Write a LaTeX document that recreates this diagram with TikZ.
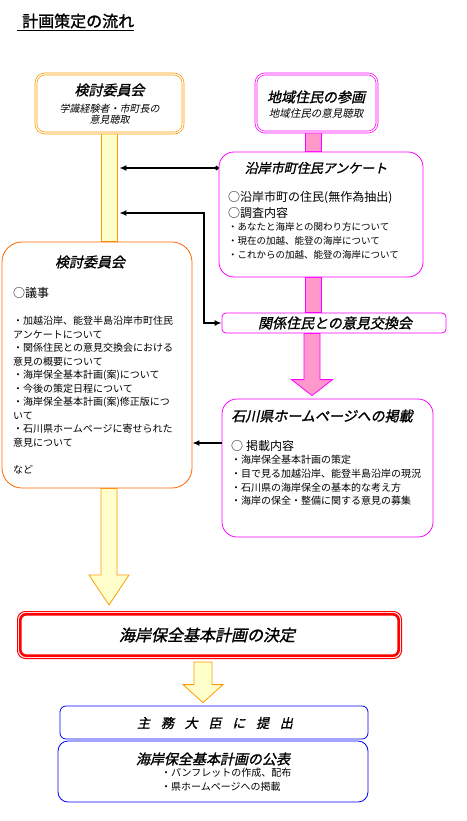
\documentclass[tikz,border=0pt]{standalone}
\usepackage{fontspec}
\setmainfont{Noto Sans CJK JP}
\newfontfamily\jpbi[FakeSlant=0.22,FakeBold=1.3]{Noto Sans CJK JP}
\newfontfamily\jpi[FakeSlant=0.22]{Noto Sans CJK JP}
\newfontfamily\jpb[FakeBold=1.3]{Noto Sans CJK JP}
\usetikzlibrary{calc,fit,arrows.meta,backgrounds}
\definecolor{orgA}{HTML}{FF9900}
\definecolor{orgB}{HTML}{FF6600}
\definecolor{mag}{HTML}{FF00FF}
\definecolor{pinkf}{HTML}{FF99CC}
\definecolor{yelf}{HTML}{FFFFCC}
\definecolor{blu}{HTML}{0000FF}
\newcommand\fs[2]{\fontsize{#1}{#2}\selectfont}
\begin{document}
\begin{tikzpicture}[x=1pt,y=-1pt,
  box/.style={draw, fill=white, inner sep=0, line width=0.8pt},
  dbox/.style={draw, fill=white, inner sep=0, double=white, double distance=1.2pt, line width=0.7pt},
  txt/.style={inner sep=0, text=black},
  conn/.style={line width=2pt, -{Latex[length=7pt,width=6pt]}},
  yarr/.style={draw=orgA, fill=yelf, line width=0.8pt, line join=miter},
  parr/.style={draw=mag, fill=pinkf, line width=0.8pt, line join=miter}]
\useasboundingbox (0,0) rectangle (466,821);

% boxes
\node[dbox, draw=orgA, rounded corners=9, minimum width=147, minimum height=59] (b1) at (109.5,103.5) {};
\node[dbox, draw=mag, rounded corners=9, minimum width=121, minimum height=58] (b2) at (316.5,103) {};
\node[box, draw=orgB, rounded corners=20, minimum width=190, minimum height=246] (b3) at (97,365) {};
\node[box, draw=mag, rounded corners=15, minimum width=204, minimum height=125] (b4) at (321,214.5) {};
\node[box, draw=mag, rounded corners=4, minimum width=224, minimum height=20] (b5) at (334,323) {};
\node[box, draw=mag, rounded corners=15, minimum width=211, minimum height=138] (b6) at (327.5,468) {};
\node[box, draw=red, line width=1pt, rounded corners=8, minimum width=384, minimum height=47] (b7) at (209.5,635) {};
\draw[red, line width=2.6pt, rounded corners=6] ($(b7.north west)+(3.3,3.3)$) rectangle ($(b7.south east)+(-3.3,-3.3)$);
\node[box, draw=blu, rounded corners=6, minimum width=308, minimum height=33] (b8) at (214,722.5) {};
\node[box, draw=blu, rounded corners=10, minimum width=310, minimum height=61] (b9) at (213,771.5) {};

% shafts and fat arrows (behind boxes)
\coordinate (sx) at (109,0);
\coordinate (x2) at (203,0);
\coordinate (px) at (313,0);
\coordinate (px2) at (312,0);
\coordinate (t1) at ($(sx |- b7.north)+(0,-6)$);
\coordinate (t2) at ($(x2 |- b8.north)+(0,-3)$);
\coordinate (t3) at ($(px2 |- b6.north)+(0,-3)$);
\begin{scope}[on background layer]
\fill[white] (0,0) rectangle (466,821);
\node[yarr, inner sep=0, minimum width=16, fit=(sx |- b1.south)(sx |- b3.north)] (s1) {};
\draw[yarr] ($(sx |- b3.south)+(-8,0)$) -- ($(t1)+(-8,-30)$) -- ($(t1)+(-20,-30)$) -- (t1) -- ($(t1)+(20,-30)$) -- ($(t1)+(8,-30)$) -- ($(sx |- b3.south)+(8,0)$) -- cycle;
\draw[yarr] ($(x2 |- b7.south)+(-9,3)$) -- ($(t2)+(-9,-18)$) -- ($(t2)+(-20,-18)$) -- (t2) -- ($(t2)+(20,-18)$) -- ($(t2)+(9,-18)$) -- ($(x2 |- b7.south)+(9,3)$) -- cycle;
\draw[parr] ($(px |- b2.south)+(-8,0)$) rectangle ($(px |- b4.north)+(8,0)$);
\draw[parr] ($(px |- b4.south)+(-8,0)$) rectangle ($(px |- b5.north)+(8,0)$);
\draw[parr] ($(px2 |- b5.south)+(-8,0)$) -- ($(t3)+(-8,-16)$) -- ($(t3)+(-20.5,-16)$) -- (t3) -- ($(t3)+(20.5,-16)$) -- ($(t3)+(8,-16)$) -- ($(px2 |- b5.south)+(8,0)$) -- cycle;
\end{scope}

% connectors
\draw[conn, {Circle[length=4pt]}-{Latex[length=7pt,width=6pt]}] (b4.west |- 0,168) -- ($(s1.east |- 0,168)+(2,0)$);
\draw[conn, {Latex[length=7pt,width=6pt]}-{Latex[length=7pt,width=6pt]}] ($(s1.east |- 0,213)+(2,0)$) -| ($(b5.west)+(-18,0)$) -- (b5.west);
\draw[conn] (b6.west |- 0,443) -- (b3.east |- 0,443);

% title
\node[txt, anchor=west, font=\jpb\fs{16}{18}] (title) at (22,21) {計画策定の流れ};
\draw[line width=0.9pt] ($(title.south west)+(-5,2)$) -- ($(title.south east)+(0,2)$);

% texts
\node[txt, font=\jpbi\fs{14}{16}] (b1t) at (109.5,90) {検討委員会};
\node[txt, font=\jpi\fs{10}{11}, align=center] (b1s) at (109.5,114) {学識経験者・市町長の\\意見聴取};
\node[txt, font=\jpbi\fs{14}{16}] (b2t) at (316,97) {地域住民の参画};
\node[txt, font=\jpi\fs{10.5}{12}] (b2s) at (316,114) {地域住民の意見聴取};

\node[txt, font=\jpbi\fs{13}{15}] (b4t) at (316,168) {沿岸市町住民アンケート};
\node[txt, font=\fs{12}{16}, align=left, anchor=north west] (b4a) at (228,191) {○沿岸市町の住民(無作為抽出)\\○調査内容};
\node[txt, font=\fs{9.5}{14}, align=left, anchor=north west] (b4b) at (228,222) {・あなたと海岸との関わり方について\\・現在の加越、能登の海岸について\\・これからの加越、能登の海岸について};

\node[txt, font=\jpbi\fs{14}{16}] (b5t) at (335,323) {関係住民との意見交換会};

\node[txt, font=\jpbi\fs{14}{16}] (b3t) at (90,262) {検討委員会};
\node[txt, font=\fs{12}{14}, anchor=west] (b3a) at (13,293) {○議事};
\node[txt, font=\fs{10}{13.5}, align=left, anchor=north west] (b3b) at (13,316) {・加越沿岸、能登半島沿岸市町住民\\アンケートについて\\・関係住民との意見交換会における\\意見の概要について\\・海岸保全基本計画(案)について\\・今後の策定日程について\\・海岸保全基本計画(案)修正版につ\\いて\\・石川県ホームページに寄せられた\\意見について\\[13.5pt]など};

\node[txt, font=\jpbi\fs{14}{16}] (b6t) at (322,416) {石川県ホームページへの掲載};
\node[txt, font=\fs{12}{14}, anchor=west] (b6a) at (231,446) {○\hspace{3pt}掲載内容};
\node[txt, font=\fs{10}{13.7}, align=left, anchor=north west] (b6b) at (231,455) {・海岸保全基本計画の策定\\・目で見る加越沿岸、能登半島沿岸の現況\\・石川県の海岸保全の基本的な考え方\\・海岸の保全・整備に関する意見の募集};

\node[txt, font=\jpbi\fs{16}{18}] (b7t) at (207,635) {海岸保全基本計画の決定};
\node[txt, font=\jpbi\fs{13}{15}] (b8t) at (215,723) {主\hspace{10.8pt}務\hspace{10.8pt}大\hspace{10.8pt}臣\hspace{10.8pt}に\hspace{10.8pt}提\hspace{10.8pt}出};
\node[txt, font=\jpbi\fs{14}{16}] (b9t) at (213,759) {海岸保全基本計画の公表};
\node[txt, font=\fs{10}{14}, align=left, anchor=north west] (b9b) at (161,768) {・パンフレットの作成、配布\\・県ホームページへの掲載};
\end{tikzpicture}
\end{document}
